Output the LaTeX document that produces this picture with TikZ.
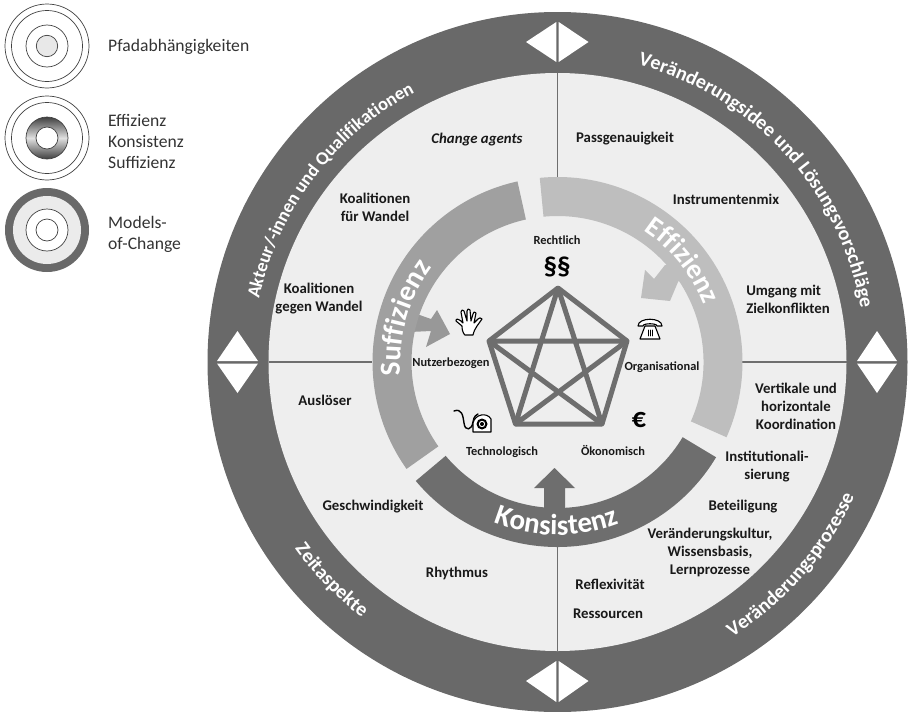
\documentclass[tikz,border=0pt]{standalone}
\usepackage{fontspec}
\setmainfont{Carlito}
\usetikzlibrary{decorations.text,calc}
\definecolor{ringdark}{HTML}{696969}
\definecolor{diskbg}{HTML}{EEEEEE}
\definecolor{linegrey}{HTML}{6E6E6E}
\definecolor{effgrey}{HTML}{BEBEBE}
\definecolor{sufgrey}{HTML}{A0A0A0}
\definecolor{konsgrey}{HTML}{6E6E6E}
\newcommand{\fsz}[2]{\fontsize{#1}{#2}\selectfont}
\tikzset{
  lab/.style={font=\bfseries\fsz{14.8}{18}, align=center, inner sep=0pt, text=black!90},
  dim/.style={font=\bfseries\fsz{12.4}{15}, align=center, inner sep=0pt, text=black!90},
  leg/.style={font=\fsz{17.6}{21}, align=left, inner sep=0pt, anchor=west, text=black!80},
  thin ring/.style={draw=black!75, line width=0.7pt},
  pedge/.style={draw=linegrey, line width=5pt, line join=round},
  axis/.style={draw=linegrey, line width=1.6pt},
  dia/.style={fill=white, draw=none},
  icon/.style={draw=black, line width=1.1pt, line join=round, line cap=round},
}
% angles are given in the usual sense (counter-clockwise on the page); the y axis is flipped
\newcommand{\ringseg}[5]{\fill[#1] ($(C)+(-#2:#5)$) arc[start angle=-#2, end angle=-#3, radius=#5] -- ($(C)+(-#3:#4)$) arc[start angle=-#3, end angle=-#2, radius=#4] -- cycle;}
\newcommand{\curvetext}[5]{\path[decorate, decoration={text along path, text align=center, text={|\color{white}#5|#1}}] ($(C)+(-#2:#4)$) arc[start angle=-#2, end angle=-#3, radius=#4];}
\begin{document}
\begin{tikzpicture}[x=1pt,y=-1pt]
\useasboundingbox (0,0) rectangle (908,712);
\coordinate (C) at (557.5,362);
% main disc
\fill[ringdark] (C) circle[radius=350];
\fill[diskbg] (C) circle[radius=289];
% axes
\coordinate (Ntop) at (557.5,73); \coordinate (Ntopi) at (557.5,178);
\coordinate (Nbot) at (557.5,651); \coordinate (Nboti) at (557.5,546);
\coordinate (Nl) at (268.5,362); \coordinate (Nli) at (372,362);
\coordinate (Nr) at (846.5,362); \coordinate (Nri) at (742,362);
\draw[axis] (Ntop)--(Ntopi); \draw[axis] (Nbot)--(Nboti);
\draw[axis] (Nl)--(Nli); \draw[axis] (Nr)--(Nri);
% diamonds
\fill[dia] (526,42)--(556.3,22)--(556.3,62)--cycle;
\fill[dia] (588.5,42)--(558.7,22)--(558.7,62)--cycle;
\fill[dia] (526,681)--(556.3,661)--(556.3,702)--cycle;
\fill[dia] (588.5,681)--(558.7,661)--(558.7,702)--cycle;
\fill[dia] (217,361)--(237.5,331)--(258,361)--cycle;
\fill[dia] (217,363.5)--(237.5,393)--(258,363.5)--cycle;
\fill[dia] (857,361)--(877,331)--(897,361)--cycle;
\fill[dia] (857,363.5)--(877,393)--(897,363.5)--cycle;
% arrows below ring
\fill[sufgrey!95!black] (400,312)--(414,313)--(431,319)--(437,310)--(450,334)--(426,347)--(431,331)--(410,332)--cycle;
\fill[effgrey] (641,298)--(645,270)--(654,279)--(665,265)--(690,265)--(678,282)--(670,301)--cycle;
\fill[konsgrey] (554.5,468)--(575,488)--(565,488)--(565,515)--(544,515)--(544,488)--(534,488)--cycle;
% rings
\ringseg{effgrey}{95.5}{-24}{146}{185}
\ringseg{sufgrey}{102.5}{215.3}{146}{185}
\ringseg{konsgrey}{220}{329}{146}{185}
% ring labels
\curvetext{Akteur/-innen und Qualifikationen}{178}{108}{305}{\bfseries\fsz{18.5}{20}}
\curvetext{Veränderungsidee und Lösungsvorschläge}{78}{7}{308}{\bfseries\fsz{20}{20}}
\curvetext{Veränderungsprozesse}{-63}{-19}{326}{\bfseries\fsz{20}{20}}
\curvetext{Zeitaspekte}{205}{243}{322}{\bfseries\fsz{20}{20}}
\curvetext{Effizienz}{70}{8}{157}{\bfseries\fsz{28}{30}}
\curvetext{Suffizienz}{198}{130}{157}{\bfseries\fsz{29}{30}}
\curvetext{Konsistenz}{240}{299}{173}{\bfseries\fsz{29}{30}}
% pentagon
\coordinate (P1) at (558,288);
\coordinate (P2) at (627,341);
\coordinate (P3) at (602,424);
\coordinate (P4) at (515.5,424);
\coordinate (P5) at (489,341);
\draw[pedge] (P1)--(P2)--(P3)--(P4)--(P5)--cycle;
\draw[pedge] (P1)--(P3)--(P5)--(P2)--(P4)--cycle;
% dimension labels
\node[dim] (rRecht) at (557,240) {Rechtlich};
\node[font=\bfseries\fsz{27}{27}, inner sep=0pt] (rPara) at (557,267) {§§};
\node[dim] (rNutz) at (451,363) {Nutzerbezogen};
\node[dim] (rOrg) at (662,367) {Organisational};
\node[dim] (rTech) at (502,452) {Technologisch};
\node[dim] (rOek) at (613,450) {Ökonomisch};
\node[font=\bfseries\fsz{28}{28}, inner sep=0pt] (rEuro) at (639,420) {€};
% hand
\begin{scope}[shift={(468,327)}]
\draw[icon, fill=white] (-6,-1) .. controls (-6,6) and (-3,8) .. (-3,8) -- (5,8) .. controls (6,4) and (7,2) .. (9,-1) -- (14,-8) .. controls (13,-10) and (11,-9) .. (10,-8) -- (6,-4) -- (8,-14) .. controls (7,-16) and (5,-15) .. (5,-13) -- (3,-6) -- (2,-17) .. controls (1,-19) and (-1,-18) .. (-1,-16) -- (-1,-6) -- (-4,-16) .. controls (-5,-18) and (-7,-17) .. (-7,-15) -- (-5,-4) -- (-7,-6) .. controls (-10,-8) and (-12,-9) .. (-12,-6) .. controls (-10,-4) and (-8,-3) .. (-6,-1);
\end{scope}
% telephone
\begin{scope}[shift={(650,329)}]
\draw[icon, fill=white] (-5,-3)--(5,-3)--(10,10)--(-10,10)--cycle;
\draw[icon, fill=white] (-12,-3) .. controls (-12,-12) and (12,-12) .. (12,-3) -- (7,-3) .. controls (7,-6) and (-7,-6) .. (-7,-3) -- cycle;
\draw[icon, line width=0.7pt] (-2,1)--(-2,7) (0,1)--(0,7) (2,1)--(2,7);
\end{scope}
% tape
\begin{scope}[shift={(477,424)}]
\draw[icon, line width=1.4pt] (-23,-13) .. controls (-15,-16) and (-14,-8) .. (-13,-1) .. controls (-12,8) and (-5,6) .. (-4,-2) .. controls (-3,-8) and (-1,-9) .. (1,-10);
\draw[icon, fill=white] (-4,8) -- (-4,-1) .. controls (-2,-10) and (10,-12) .. (14,-5) -- (14,8) -- cycle;
\fill[black] (5,0) circle[radius=5.5];
\fill[white] (5,0) circle[radius=3.2];
\fill[black] (5,0) circle[radius=2];
\end{scope}
% disc labels
\node[lab, font=\bfseries\itshape\fsz{14.8}{18}] (t1) at (477,140) {Change agents};
\node[lab] (t2) at (625,139) {Passgenauigkeit};
\node[lab] (t3) at (375,207) {Koalitionen\\für Wandel};
\node[lab] (t4) at (726,199) {Instrumentenmix};
\node[lab] (t5) at (319,299) {Koalitionen\\gegen Wandel};
\node[lab, align=left] (t6) at (788,299) {Umgang mit\\Zielkonflikten};
\node[lab] (t7) at (796,406) {Vertikale und\\horizontale\\Koordination};
\node[lab] (t8) at (325,400) {Auslöser};
\node[lab] (t9) at (767,467) {Institutionali-\\sierung};
\node[lab] (t10) at (743,507) {Beteiligung};
\node[lab] (t11) at (710,552) {Veränderungskultur,\\Wissensbasis,\\Lernprozesse};
\node[lab] (t12) at (610,584) {Reflexivität};
\node[lab] (t13) at (608,614) {Ressourcen};
\node[lab] (t14) at (373,507) {Geschwindigkeit};
\node[lab] (t15) at (457,573) {Rhythmus};
% legend
\begin{scope}[shift={(47,46)}]
\draw[thin ring] (0,0) circle[radius=42];
\draw[thin ring] (0,0) circle[radius=35.5];
\draw[thin ring] (0,0) circle[radius=21];
\draw[thin ring, fill=black!9] (0,0) circle[radius=10.7];
\end{scope}
\begin{scope}[shift={(47,138)}]
\draw[thin ring] (0,0) circle[radius=42];
\draw[thin ring] (0,0) circle[radius=35.5];
\shade[top color=black!75, bottom color=black!75, middle color=black!12] (0,0) circle[radius=21];
\draw[thin ring] (0,0) circle[radius=21];
\draw[thin ring, fill=white] (0,0) circle[radius=11];
\end{scope}
\begin{scope}[shift={(47,230)}]
\fill[ringdark] (0,0) circle[radius=42];
\fill[black!8] (0,0) circle[radius=34];
\draw[thin ring, fill=white] (0,0) circle[radius=21];
\draw[thin ring] (0,0) circle[radius=11];
\end{scope}
\node[leg] (l1) at (108,47) {Pfadabhängigkeiten};
\node[leg] (l2) at (108,141) {Effizienz\\Konsistenz\\Suffizienz};
\node[leg] (l3) at (108,234) {Models-\\of-Change};
\end{tikzpicture}
\end{document}
